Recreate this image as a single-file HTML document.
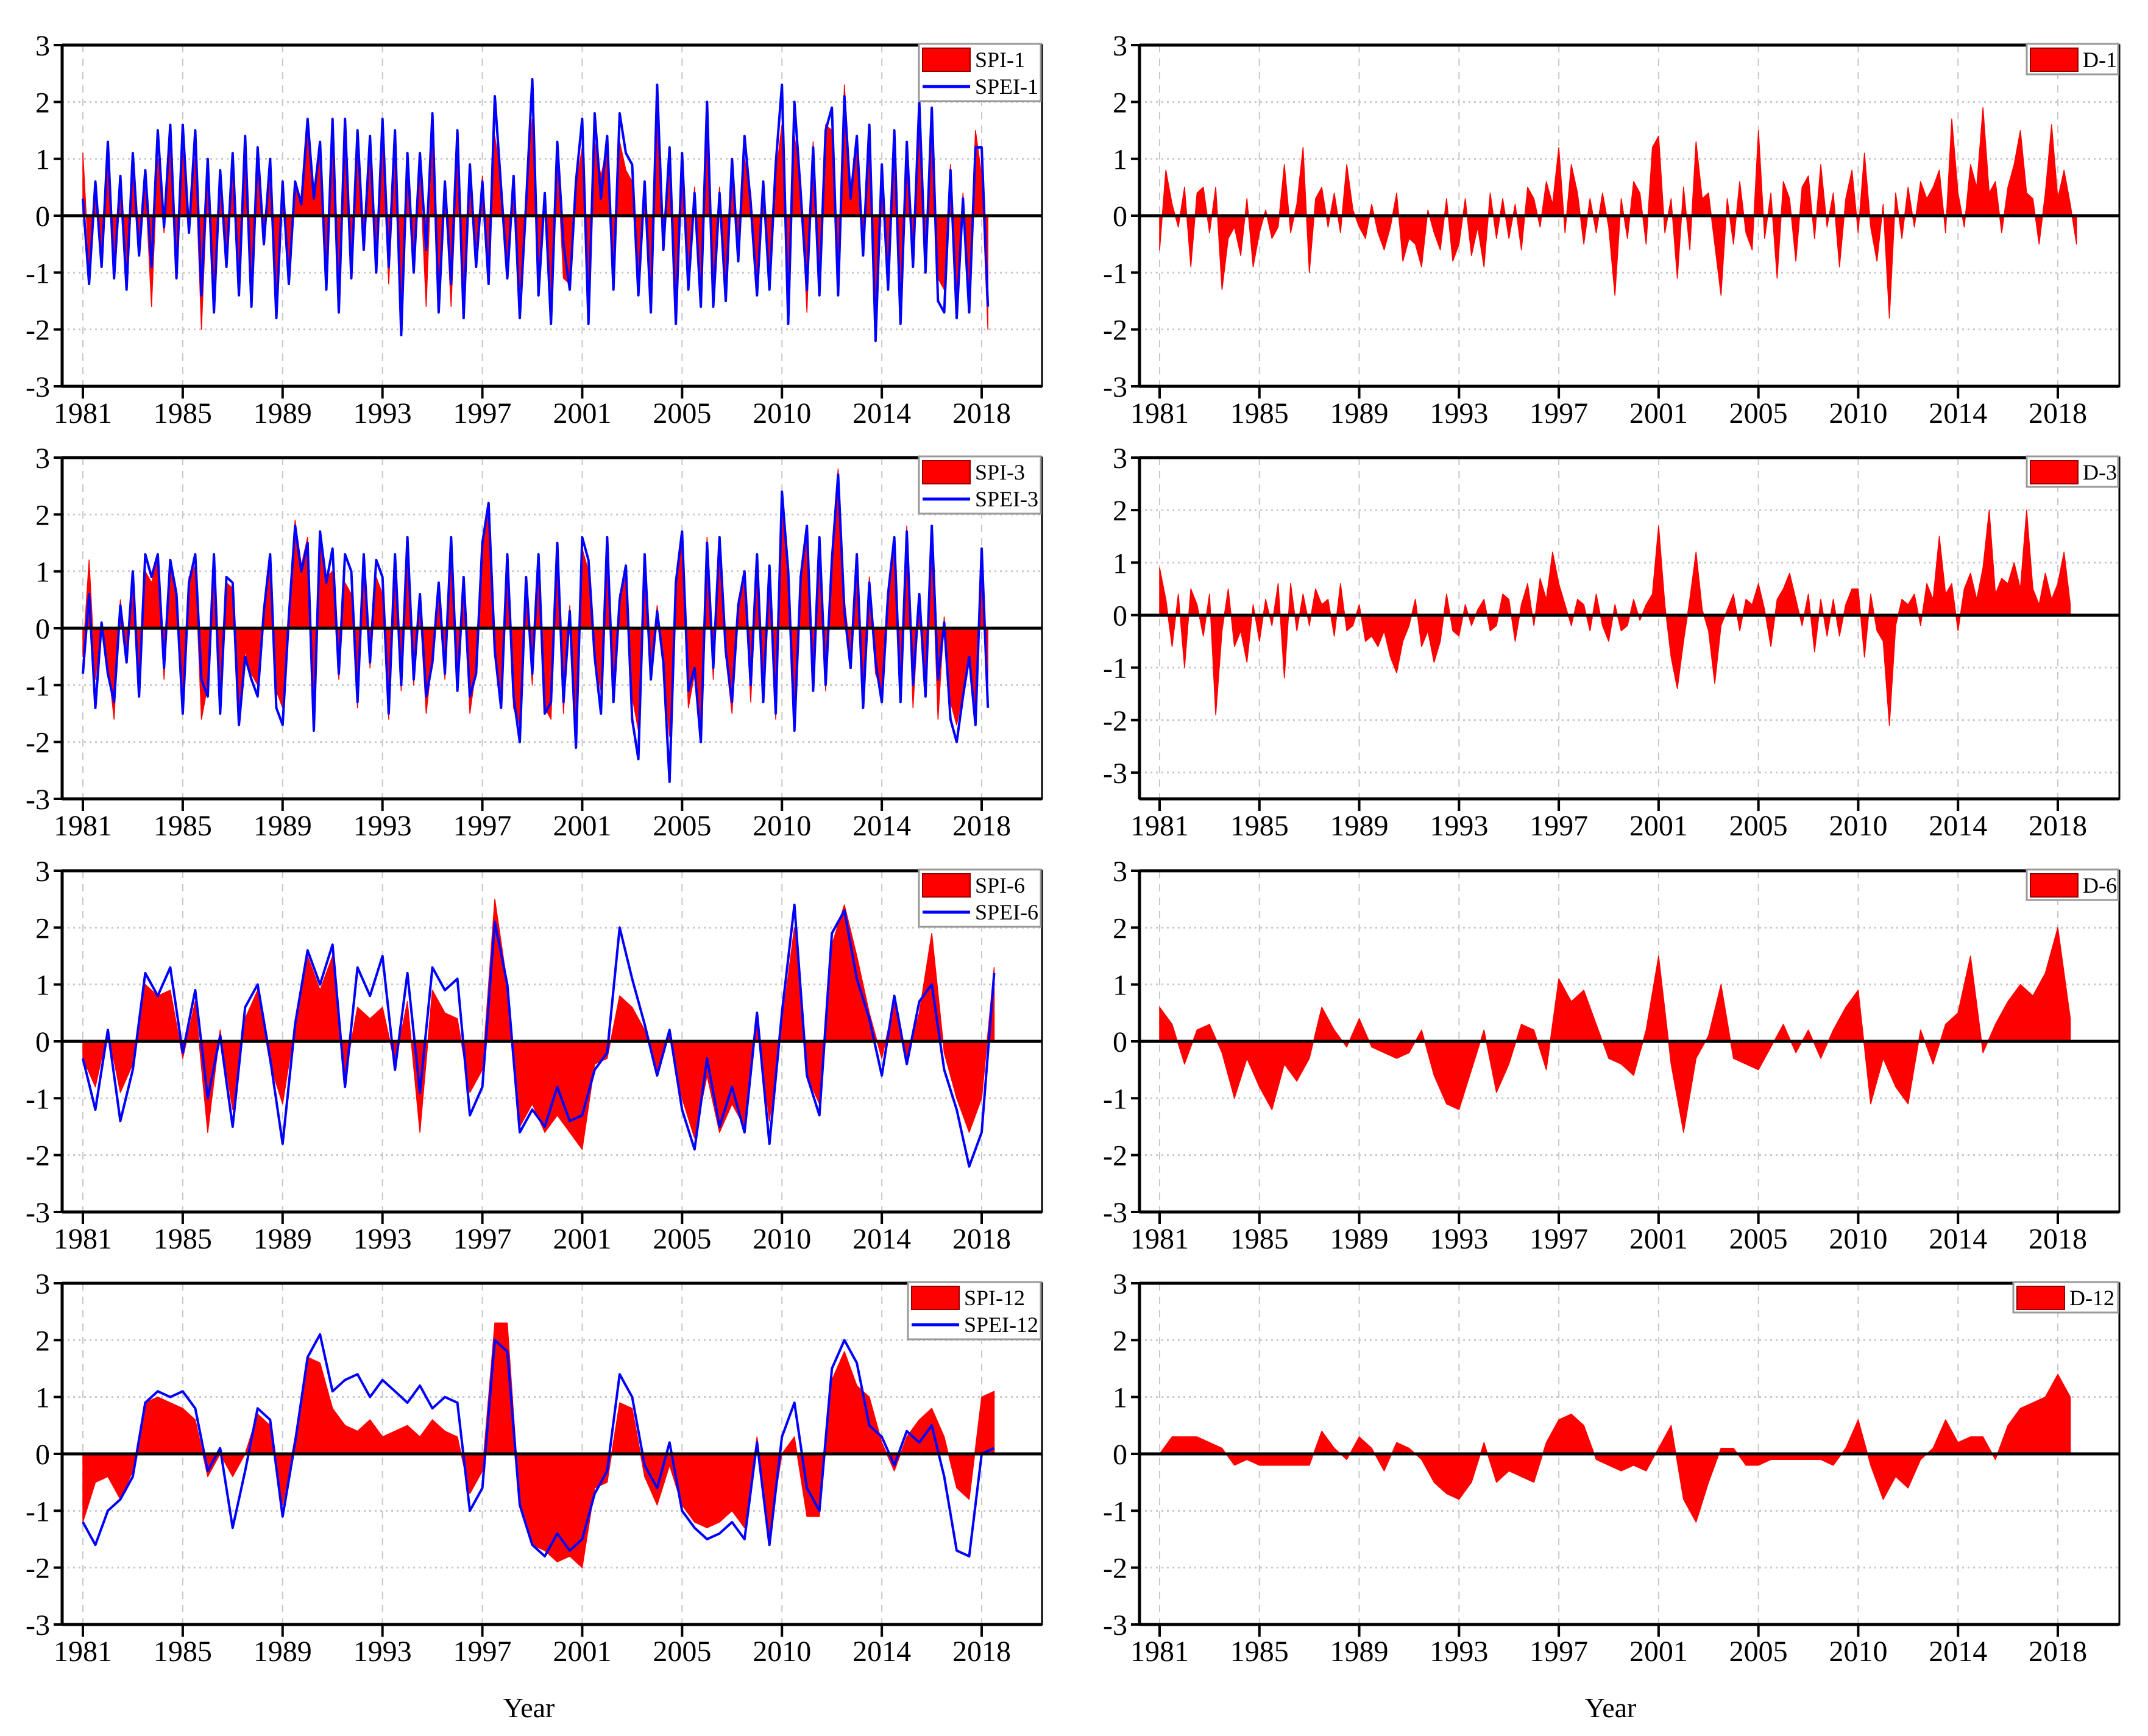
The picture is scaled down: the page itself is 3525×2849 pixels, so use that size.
<!DOCTYPE html>
<html><head><meta charset="utf-8">
<style>
html,body{margin:0;padding:0;background:#fff;}
svg{display:block;font-family:"Liberation Serif",serif;}
</style></head>
<body>
<svg id="chart" width="3525" height="2849" viewBox="0 0 3525 2849" xmlns="http://www.w3.org/2000/svg">
<rect width="3525" height="2849" fill="#fff"/>
<text x="868" y="2818" font-size="46" text-anchor="middle">Year</text>
<text x="2643" y="2818" font-size="46" text-anchor="middle">Year</text>
</svg>
<script>
const yearLabels = ["1981","1985","1989","1993","1997","2001","2005","2010","2014","2018"];
const spei1 = [0.3,-1.2,0.6,-0.9,1.3,-1.1,0.7,-1.3,1.1,-0.7,0.8,-0.9,1.5,-0.2,1.6,-1.1,1.6,-0.3,1.5,-1.4,1.0,-1.7,0.8,-0.9,1.1,-1.4,1.4,-1.6,1.2,-0.5,1.0,-1.8,0.6,-1.2,0.6,0.2,1.7,0.3,1.3,-1.3,1.7,-1.7,1.7,-1.1,1.5,-0.6,1.4,-1.0,1.7,-0.9,1.5,-2.1,1.1,-1.0,1.1,-0.6,1.8,-1.7,0.6,-1.2,1.5,-1.8,0.9,-0.9,0.6,-1.2,2.1,0.5,-1.1,0.7,-1.8,0.2,2.4,-1.4,0.4,-1.9,1.3,-0.5,-1.3,0.6,1.7,-1.9,1.8,0.3,1.4,-1.3,1.8,1.1,0.9,-1.4,0.6,-1.7,2.3,-0.6,1.2,-1.9,1.1,-1.3,0.4,-1.6,2.0,-1.6,0.4,-1.5,1.0,-0.8,1.4,0.2,-1.4,0.6,-1.3,0.9,2.3,-1.9,2.0,0.4,-1.3,1.2,-1.4,1.5,1.9,-1.4,2.1,0.3,1.4,-0.7,1.6,-2.2,0.9,-1.3,1.5,-1.9,1.3,-0.9,2.0,-1.0,1.9,-1.5,-1.7,0.8,-1.8,0.3,-1.7,1.2,1.2,-1.6];
const spi1 = [1.1,-0.9,0.4,-0.6,1.0,-0.8,0.5,-1.1,0.8,-0.5,0.6,-1.6,1.0,-0.3,1.2,-0.8,1.1,-0.2,1.0,-2.0,0.7,-1.2,0.6,-0.7,0.8,-1.0,1.0,-1.1,0.9,-0.4,0.6,-1.3,0.5,-0.9,0.5,0.3,1.4,0.5,1.1,-0.9,1.2,-1.3,1.3,-0.8,1.1,-0.5,1.0,-0.8,1.2,-1.2,1.1,-1.5,0.9,-0.8,0.8,-1.6,1.3,-1.2,0.5,-1.6,1.0,-1.3,0.7,-0.7,0.7,-0.9,1.4,0.6,-0.8,0.6,-1.3,0.3,1.7,-1.0,0.3,-1.4,1.0,-1.1,-1.2,0.5,1.2,-1.4,1.3,0.7,1.2,-0.9,1.3,0.8,0.6,-1.0,0.5,-1.3,1.6,-0.5,0.9,-1.5,0.8,-1.0,0.5,-1.2,1.4,-1.2,0.5,-1.1,0.9,-0.6,1.0,0.4,-1.1,0.5,-1.0,0.7,1.6,-1.4,1.4,0.6,-1.7,1.3,-1.1,1.6,1.5,-1.2,2.3,0.5,1.2,-0.6,1.2,-1.6,0.7,-1.0,1.1,-1.4,1.1,-0.7,1.5,-0.8,1.4,-1.1,-1.3,0.9,-1.4,0.4,-1.4,1.5,0.7,-2.0];
const spei3 = [-0.8,0.6,-1.4,0.1,-0.8,-1.3,0.4,-0.6,1.0,-1.2,1.3,0.9,1.3,-0.7,1.2,0.6,-1.5,0.8,1.3,-0.9,-1.2,1.3,-1.5,0.9,0.8,-1.7,-0.5,-0.9,-1.2,0.3,1.3,-1.4,-1.7,0.2,1.8,1.0,1.5,-1.8,1.7,0.8,1.4,-0.8,1.3,1.0,-1.3,1.3,-0.6,1.2,0.9,-1.5,1.3,-1.0,1.6,-0.9,0.6,-1.2,-0.6,0.8,-0.8,1.6,-1.1,0.9,-1.2,-0.8,1.5,2.2,-0.4,-1.4,1.3,-1.2,-2.0,0.9,-0.8,1.3,-1.5,-1.3,1.5,-1.3,0.3,-2.1,1.6,1.2,-0.5,-1.5,1.6,-1.3,0.5,1.1,-1.6,-2.3,1.3,-0.9,0.3,-0.6,-2.7,0.8,1.7,-1.1,-0.7,-2.0,1.5,-0.7,1.6,-0.4,-1.3,0.4,1.0,-1.0,1.3,-1.3,1.1,-1.5,2.4,1.0,-1.8,0.9,1.8,-1.1,1.6,-1.0,1.2,2.7,0.3,-0.7,1.3,-1.4,0.8,-0.6,-1.3,0.6,1.6,-1.3,1.7,-1.0,0.6,-1.2,1.8,-0.9,0.1,-1.6,-2.0,-1.2,-0.5,-1.7,1.4,-1.4];
const spi3 = [-0.5,1.2,-0.9,0.1,-0.6,-1.6,0.5,-0.4,0.9,-1.0,1.0,0.8,1.2,-0.9,1.1,0.5,-1.3,0.9,1.1,-1.6,-1.0,1.2,-1.3,0.8,0.7,-1.4,-0.4,-0.8,-1.0,0.3,1.2,-1.1,-1.4,0.1,1.9,1.1,1.6,-1.6,1.5,0.9,1.0,-0.9,0.8,0.6,-1.4,1.1,-0.7,0.9,0.6,-1.6,1.2,-1.1,1.4,-1.0,0.4,-1.5,-0.5,0.6,-0.9,1.3,-1.0,0.7,-1.5,-0.7,1.4,2.2,-0.3,-1.3,1.1,-1.4,-1.7,0.8,-1.0,1.1,-1.4,-1.6,1.3,-1.5,0.4,-1.8,1.4,1.0,-0.6,-1.1,1.3,-1.0,0.6,0.9,-1.2,-1.8,1.0,-0.8,0.4,-0.7,-1.9,0.7,1.5,-1.4,-0.8,-1.8,1.6,-0.9,1.4,-0.5,-1.5,0.5,0.9,-1.3,1.1,-1.2,1.0,-1.6,2.0,1.1,-1.5,0.8,1.6,-1.0,1.5,-1.1,1.3,2.8,0.5,-0.5,1.0,-1.2,0.9,-0.8,-1.1,0.7,1.5,-1.2,1.8,-1.4,0.5,-1.0,1.6,-1.6,0.2,-1.3,-1.7,-1.1,-0.4,-1.4,1.3,-1.0];
const spei6 = [-0.3,-1.2,0.2,-1.4,-0.5,1.2,0.8,1.3,-0.2,0.9,-1.0,0.1,-1.5,0.6,1.0,-0.3,-1.8,0.3,1.6,1.0,1.7,-0.8,1.3,0.8,1.5,-0.5,1.2,-0.9,1.3,0.9,1.1,-1.3,-0.8,2.1,1.0,-1.6,-1.2,-1.5,-0.8,-1.4,-1.3,-0.5,-0.2,2.0,1.1,0.3,-0.6,0.2,-1.2,-1.9,-0.3,-1.5,-0.8,-1.6,0.5,-1.8,0.5,2.4,-0.6,-1.3,1.9,2.3,1.1,0.4,-0.6,0.8,-0.4,0.7,1.0,-0.5,-1.2,-2.2,-1.6,1.2];
const spi6 = [-0.3,-0.8,0.2,-0.9,-0.4,1.0,0.8,0.9,-0.3,0.7,-1.6,0.2,-1.2,0.4,0.9,-0.4,-1.1,0.3,1.5,0.9,1.5,-0.6,0.6,0.4,0.6,-0.4,0.7,-1.6,0.9,0.5,0.4,-0.9,-0.5,2.5,1.0,-1.5,-1.1,-1.6,-1.3,-1.6,-1.9,-0.4,-0.3,0.8,0.6,0.2,-0.5,0.1,-1.0,-1.7,-0.6,-1.6,-1.1,-1.5,0.4,-1.4,0.3,2.0,-0.6,-1.1,1.7,2.4,1.5,0.5,-0.3,0.7,-0.3,0.5,1.9,-0.2,-1.0,-1.6,-1.0,1.3];
const spei12 = [-1.2,-1.6,-1.0,-0.8,-0.4,0.9,1.1,1.0,1.1,0.8,-0.3,0.1,-1.3,-0.3,0.8,0.6,-1.1,0.2,1.7,2.1,1.1,1.3,1.4,1.0,1.3,1.1,0.9,1.2,0.8,1.0,0.9,-1.0,-0.6,2.0,1.8,-0.9,-1.6,-1.8,-1.4,-1.7,-1.5,-0.7,-0.3,1.4,1.0,-0.2,-0.6,0.2,-1.0,-1.3,-1.5,-1.4,-1.2,-1.5,0.2,-1.6,0.3,0.9,-0.6,-1.0,1.5,2.0,1.6,0.5,0.3,-0.2,0.4,0.2,0.5,-0.4,-1.7,-1.8,0.0,0.1];
const spi12 = [-1.2,-0.5,-0.4,-0.8,-0.3,0.9,1.0,0.9,0.8,0.6,-0.4,0.0,-0.4,0.0,0.7,0.5,-0.9,0.3,1.7,1.6,0.8,0.5,0.4,0.6,0.3,0.4,0.5,0.3,0.6,0.4,0.3,-0.7,-0.3,2.3,2.3,-0.9,-1.6,-1.7,-1.9,-1.8,-2.0,-0.6,-0.5,0.9,0.8,-0.4,-0.9,-0.2,-0.9,-1.2,-1.3,-1.2,-1.0,-1.3,0.3,-1.4,0.0,0.3,-1.1,-1.1,1.3,1.8,1.2,1.0,0.2,-0.3,0.3,0.6,0.8,0.3,-0.6,-0.8,1.0,1.1];
const d1 = [-0.6,0.8,0.2,-0.2,0.5,-0.9,0.4,0.5,-0.3,0.5,-1.3,-0.4,-0.2,-0.7,0.3,-0.9,-0.3,0.1,-0.4,-0.2,0.9,-0.3,0.2,1.2,-1.0,0.3,0.5,-0.2,0.4,-0.3,0.9,0.1,-0.2,-0.4,0.2,-0.3,-0.6,-0.2,0.4,-0.8,-0.4,-0.5,-0.9,0.1,-0.3,-0.6,0.3,-0.8,-0.5,0.3,-0.7,-0.2,-0.9,0.4,-0.4,0.3,-0.4,0.2,-0.6,0.5,0.3,-0.2,0.6,0.2,1.2,-0.3,0.9,0.4,-0.5,0.3,-0.3,0.4,-0.2,-1.4,0.3,-0.4,0.6,0.4,-0.5,1.2,1.4,-0.3,0.3,-1.1,0.5,-0.6,1.3,0.3,0.4,-0.5,-1.4,0.3,-0.5,0.6,-0.3,-0.6,1.5,-0.4,0.4,-1.1,0.6,0.3,-0.8,0.5,0.7,-0.4,0.9,-0.2,0.4,-0.9,0.3,0.8,-0.3,1.1,-0.2,-0.8,0.2,-1.8,0.4,-0.4,0.5,-0.2,0.6,0.3,0.5,0.8,-0.3,1.7,0.4,-0.2,0.9,0.5,1.9,0.4,0.6,-0.3,0.5,0.9,1.5,0.4,0.3,-0.5,0.4,1.6,0.3,0.8,0.2,-0.5];
const d3 = [0.9,0.3,-0.6,0.4,-1.0,0.5,0.2,-0.4,0.4,-1.9,-0.3,0.5,-0.6,-0.3,-0.9,0.2,-0.5,0.3,-0.2,0.6,-1.2,0.6,-0.3,0.4,-0.2,0.5,0.2,0.3,-0.4,0.6,-0.3,-0.2,0.2,-0.5,-0.4,-0.6,-0.3,-0.8,-1.1,-0.5,-0.2,0.3,-0.6,-0.3,-0.9,-0.5,0.4,-0.3,-0.4,0.2,-0.2,0.1,0.3,-0.3,-0.2,0.4,0.3,-0.5,0.2,0.6,-0.2,0.7,0.3,1.2,0.6,0.2,-0.2,0.3,0.2,-0.3,0.4,-0.2,-0.5,0.2,-0.3,-0.2,0.3,-0.1,0.2,0.4,1.7,0.2,-0.8,-1.4,-0.5,0.3,1.2,0.1,-0.3,-1.3,-0.2,0.1,0.4,-0.3,0.3,0.2,0.6,0.1,-0.6,0.3,0.5,0.8,0.3,-0.2,0.4,-0.7,0.3,-0.4,0.3,-0.4,0.2,0.5,0.5,-0.8,0.4,-0.3,-0.5,-2.1,-0.2,0.3,0.2,0.4,-0.2,0.6,0.3,1.5,0.4,0.6,-0.3,0.5,0.8,0.3,0.9,2.0,0.4,0.7,0.6,1.0,0.5,2.0,0.5,0.2,0.8,0.3,0.6,1.2,0.2];
const d6 = [0.6,0.3,-0.4,0.2,0.3,-0.2,-1.0,-0.3,-0.8,-1.2,-0.4,-0.7,-0.3,0.6,0.2,-0.1,0.4,-0.1,-0.2,-0.3,-0.2,0.2,-0.6,-1.1,-1.2,-0.5,0.2,-0.9,-0.4,0.3,0.2,-0.5,1.1,0.7,0.9,0.3,-0.3,-0.4,-0.6,0.2,1.5,-0.4,-1.6,-0.3,0.1,1.0,-0.3,-0.4,-0.5,-0.1,0.3,-0.2,0.2,-0.3,0.2,0.6,0.9,-1.1,-0.3,-0.8,-1.1,0.2,-0.4,0.3,0.5,1.5,-0.2,0.3,0.7,1.0,0.8,1.2,2.0,0.4];
const d12 = [0.0,0.3,0.3,0.3,0.2,0.1,-0.2,-0.1,-0.2,-0.2,-0.2,-0.2,-0.2,0.4,0.1,-0.1,0.3,0.1,-0.3,0.2,0.1,-0.1,-0.5,-0.7,-0.8,-0.5,0.2,-0.5,-0.3,-0.4,-0.5,0.2,0.6,0.7,0.5,-0.1,-0.2,-0.3,-0.2,-0.3,0.1,0.5,-0.8,-1.2,-0.5,0.1,0.1,-0.2,-0.2,-0.1,-0.1,-0.1,-0.1,-0.1,-0.2,0.1,0.6,-0.2,-0.8,-0.4,-0.6,-0.1,0.1,0.6,0.2,0.3,0.3,-0.1,0.5,0.8,0.9,1.0,1.4,1.0];

const NS = "http://www.w3.org/2000/svg";
const svg = document.getElementById('chart');
function mk(tag, attrs, parent){
  const e = document.createElementNS(NS, tag);
  for (const k in attrs) e.setAttribute(k, attrs[k]);
  (parent||svg).appendChild(e);
  return e;
}
function panel(cfg){
  const g = mk('g', {});
  
  
  const L = cfg.left, R = cfg.right, T = cfg.top, B = cfg.top + 560;
  const ymin = cfg.ymin, ymax = 3;
  const Y = v => T + (ymax - v) / (ymax - ymin) * (B - T);
  const X = t => cfg.x0 + t * cfg.pxYear;
  for (let v = -3; v <= 3; v++) {
    if (v === 0 || v === 3 || Y(v) >= B - 1) continue;
    const gl = mk('line', {x1:L, x2:R, y1:Y(v), y2:Y(v), stroke:'#c8c8c8', 'stroke-width':3, 'stroke-dasharray':'3,6'}, g);
    
    
  }
  yearLabels.forEach((lab, i) => {
    const x = X(i * 4);
    const vl = mk('line', {x1:x, x2:x, y1:T, y2:B, stroke:'#c8c8c8', 'stroke-width':2, 'stroke-dasharray':'12,10'}, g);
    
    
    const tk = mk('line', {x1:x, x2:x, y1:B, y2:B + 20, stroke:'#000', 'stroke-width':4}, g);
    
    
    const tx = mk('text', {x:x, y:B + 60, 'font-size':48, 'text-anchor':'middle'}, g);
    
    
    tx.textContent = lab;
  });
  const a = cfg.area;
  let pts = [[X(0), Y(0)]];
  a.forEach((v, i) => pts.push([X(i * cfg.step), Y(v)]));
  pts.push([X((a.length - 1) * cfg.step), Y(0)]);
  const poly = mk('polygon', {points: pts.map(p => p[0].toFixed(1) + ',' + p[1].toFixed(1)).join(' '), fill:'#ff0000', stroke:'#ff0000', 'stroke-width':1.5, 'stroke-linejoin':'round'}, g);
  
  
  if (cfg.line) {
    const lp = cfg.line.map((v, i) => X(i * cfg.step).toFixed(1) + ',' + Y(v).toFixed(1)).join(' ');
    const pl = mk('polyline', {points: lp, fill:'none', stroke:'#0000ff', 'stroke-width':4, 'stroke-linejoin':'round'}, g);
    
    
  }
  const z = mk('line', {x1:L, x2:R, y1:Y(0), y2:Y(0), stroke:'#000', 'stroke-width':5}, g);
  
  
  for (let v = -3; v <= 3; v++) {
    const yy = Y(v);
    const tk = mk('line', {x1:L - 14, x2:L, y1:yy, y2:yy, stroke:'#000', 'stroke-width':4}, g);
    
    
    const tx = mk('text', {x:L - 20, y:yy + 17, 'font-size':48, 'text-anchor':'end'}, g);
    
    
    tx.textContent = v;
  }
  const fr = mk('rect', {x:L, y:T, width:R - L, height:B - T, fill:'none', stroke:'#000', 'stroke-width':3}, g);
  
  
  const ax1 = mk('line', {x1:L, x2:L, y1:T, y2:B, stroke:'#000', 'stroke-width':5}, g);
  
  
  const ax2 = mk('line', {x1:L, x2:R, y1:B, y2:B, stroke:'#000', 'stroke-width':5}, g);
  
  
  const ax3 = mk('line', {x1:L, x2:R, y1:T, y2:T, stroke:'#000', 'stroke-width':5}, g);
  
  
  const lg = mk('g', {}, g);
  
  
  let lw;
  if (cfg.line) lw = cfg.lineLabel.length > 6 ? 218 : 200;
  else lw = cfg.areaLabel.length > 3 ? 172 : 150;
  const lh = cfg.line ? 94 : 50;
  const lx = R - lw - 2, ly = T - 2;
  mk('rect', {x:lx, y:ly, width:lw, height:lh, fill:'#fff', stroke:'#999', 'stroke-width':3}, lg);
  const sw = mk('rect', {x:lx + 6, y:ly + 7, width:78, height:38, fill:'#ff0000', stroke:'#900', 'stroke-width':2}, lg);
  
  
  const t1 = mk('text', {x:lx + 92, y:ly + 38, 'font-size':36}, lg);
  
  
  t1.textContent = cfg.areaLabel;
  if (cfg.line) {
    const ll = mk('line', {x1:lx + 6, x2:lx + 84, y1:ly + 70, y2:ly + 70, stroke:'#0000ff', 'stroke-width':5}, lg);
    
    
    const t2 = mk('text', {x:lx + 92, y:ly + 82, 'font-size':36}, lg);
    
    
    t2.textContent = cfg.lineLabel;
  }
}
const tops = [74, 751, 1429, 2106];
const leftSets = [
  {area: spi1, line: spei1, step: 0.25, a: 'SPI-1', l: 'SPEI-1'},
  {area: spi3, line: spei3, step: 0.25, a: 'SPI-3', l: 'SPEI-3'},
  {area: spi6, line: spei6, step: 0.5, a: 'SPI-6', l: 'SPEI-6'},
  {area: spi12, line: spei12, step: 0.5, a: 'SPI-12', l: 'SPEI-12'}
];
const rightSets = [
  {area: d1, step: 0.25, a: 'D-1', ymin: -3},
  {area: d3, step: 0.25, a: 'D-3', ymin: -3.5},
  {area: d6, step: 0.5, a: 'D-6', ymin: -3},
  {area: d12, step: 0.5, a: 'D-12', ymin: -3}
];
leftSets.forEach((s, i) => panel({
  name: 'panel-' + s.a.toLowerCase(), left: 102, right: 1710, top: tops[i], ymin: -3,
  x0: 136, pxYear: 1475 / 36, area: s.area, line: s.line, step: s.step,
  areaName: s.a.toLowerCase(), areaLabel: s.a, lineName: s.l.toLowerCase(), lineLabel: s.l
}));
rightSets.forEach((s, i) => panel({
  name: 'panel-' + s.a.toLowerCase(), left: 1870, right: 3478, top: tops[i], ymin: s.ymin,
  x0: 1903, pxYear: 1474 / 36, area: s.area, step: s.step,
  areaName: s.a.toLowerCase(), areaLabel: s.a
}));
</script>
</body></html>
